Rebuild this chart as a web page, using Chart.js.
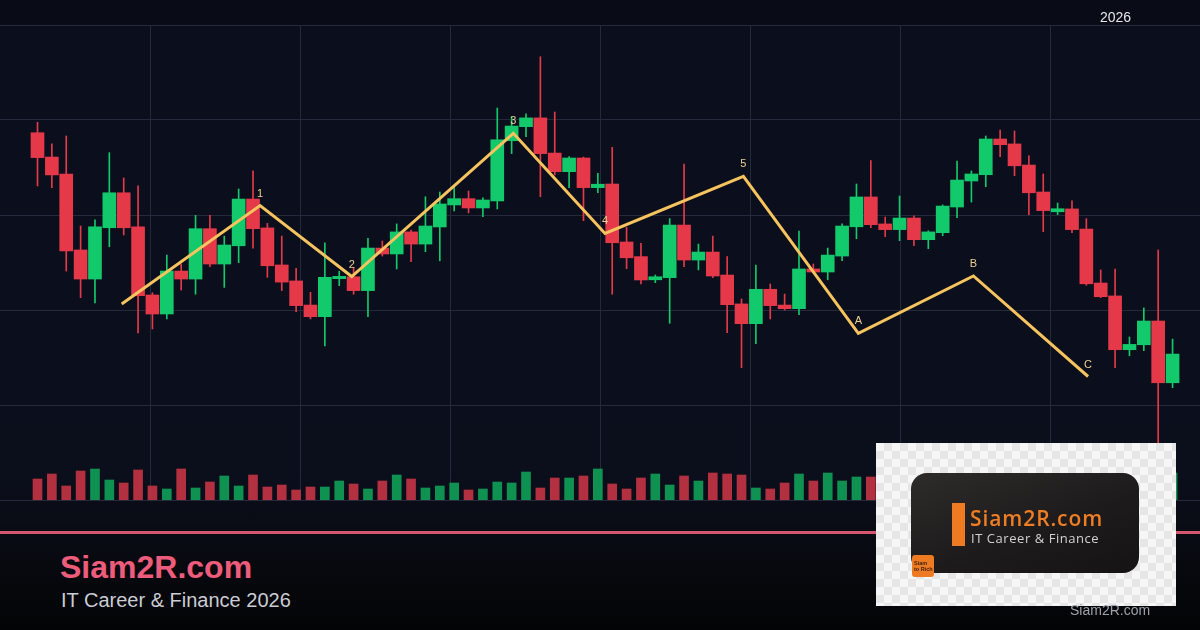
<!DOCTYPE html>
<html>
<head>
<meta charset="utf-8">
<script src="https://cdn.jsdelivr.net/npm/chart.js@4.4.1/dist/chart.umd.min.js"></script>
<style>
  html, body { margin: 0; padding: 0; }
  body {
    width: 1200px; height: 630px; overflow: hidden; position: relative;
    font-family: "Liberation Sans", Arial, sans-serif;
    background: linear-gradient(180deg, #090c16 0px, #090c16 24px, #0b0f1d 25px, #0b0f1c 470px, #090b13 540px, #030405 630px);
  }
  #wrap { position: absolute; left: 0; top: 0; width: 1200px; height: 510px; }
  .year { position: absolute; left: 1100px; top: 10px; font-size: 14px; line-height: 14px; color: #e4e6ea; }
  .rule { position: absolute; left: 0; top: 531px; width: 1200px; height: 3px; background: #d6566f; }
  .brand { position: absolute; left: 60px; top: 551px; font-size: 32px; line-height: 32px; font-weight: bold; color: #ee5c7c; }
  .tag { position: absolute; left: 61px; top: 590px; font-size: 20px; line-height: 20px; color: #c9ccd2; }
  .logo {
    position: absolute; left: 876px; top: 443px; width: 300px; height: 163px;
    background: repeating-conic-gradient(#e6e6e6 0 25%, #f6f6f6 0 50%) 0 0 / 16px 16px;
  }
  .card {
    position: absolute; left: 35px; top: 30px; width: 228px; height: 100px; border-radius: 16px;
    background: linear-gradient(160deg, #2e2b2b 0%, #1d1b1b 55%, #151313 100%);
  }
  .bar { position: absolute; left: 41px; top: 30px; width: 13px; height: 43px; background: #ee7a22; }
  .logo-name { position: absolute; left: 59px; top: 35px; font-family: "Open Sans", sans-serif; font-weight: 600; font-size: 21px; line-height: 21px; letter-spacing: 0.9px; color: #ef7d24; white-space: nowrap; }
  .logo-sub { position: absolute; left: 60px; top: 59px; font-family: "Open Sans", sans-serif; font-size: 13px; line-height: 13px; letter-spacing: 0.55px; color: #d2d2d2; white-space: nowrap; }
  .badge {
    position: absolute; left: 36px; top: 112px; width: 22px; height: 22px; border-radius: 3px; background: #ee7b22;
    font-size: 5.5px; line-height: 6px; font-weight: bold; color: #3a1f0c; padding: 5px 0 0 2px; box-sizing: border-box;
  }
  .foot { position: absolute; left: 1070px; top: 603px; font-size: 14px; line-height: 14px; color: #9ba1aa; }
</style>
</head>
<body>
<div id="wrap"><canvas id="c"></canvas></div>
<div class="year">2026</div>
<div class="rule"></div>
<div class="brand">Siam2R.com</div>
<div class="tag">IT Career &amp; Finance 2026</div>
<div class="logo">
  <div class="card">
    <div class="bar"></div>
    <div class="logo-name">Siam2R.com</div>
    <div class="logo-sub">IT Career &amp; Finance</div>
  </div>
  <div class="badge">Siam<br>to Rich</div>
</div>
<div class="foot">Siam2R.com</div>

<script>
// ราคา (OHLC) แต่ละแท่ง
const opens = [
  109.33,108.05,107.16,103.16,101.63,104.33,106.17,104.38,100.79,99.79,
  102.05,101.63,104.28,102.42,103.38,105.84,104.32,102.37,101.53,100.26,
  99.65,101.65,101.75,101.02,103.26,102.95,104.11,103.47,104.37,105.53,
  105.86,105.37,105.74,108.91,109.65,110.11,108.26,107.28,108.00,106.44,
  106.63,103.58,102.81,101.59,101.70,104.47,102.63,103.05,101.84,100.32,
  99.28,101.09,100.26,100.07,102.16,102.00,102.84,104.38,105.95,104.53,
  104.23,104.84,103.70,104.07,105.42,106.79,107.12,109.00,108.74,107.63,
  106.21,105.17,105.32,104.26,101.42,100.74,97.91,98.17,99.42,96.17
];
const closes = [
  108.02,107.11,103.11,101.63,104.38,106.17,104.33,100.75,99.79,102.05,
  101.63,104.28,102.42,103.42,105.84,104.28,102.33,101.47,100.23,99.65,
  101.72,101.77,101.02,103.26,102.95,104.11,103.47,104.42,105.58,105.86,
  105.37,105.79,108.96,109.68,110.11,108.23,107.28,108.00,106.44,106.62,
  103.54,102.75,101.58,101.75,104.47,102.63,103.05,101.79,100.28,99.28,
  101.09,100.23,100.07,102.16,102.00,102.89,104.42,105.95,104.49,104.23,
  104.84,103.70,104.11,105.47,106.84,107.16,109.00,108.70,107.59,106.17,
  105.23,105.33,104.23,101.38,100.70,97.91,98.19,99.42,96.17,97.68
];
const highs = [
  109.88,108.74,109.16,104.42,104.74,108.28,106.95,106.53,100.91,102.89,
  102.42,104.98,104.98,103.89,106.37,107.32,104.56,103.89,102.19,100.93,
  103.54,102.04,102.25,103.77,103.63,104.53,104.21,105.96,106.21,106.46,
  106.26,105.91,110.63,110.17,110.32,113.33,110.42,108.07,108.05,107.19,
  108.56,104.35,103.51,101.84,104.81,107.68,103.47,103.89,102.81,100.58,
  102.37,101.37,100.84,104.16,102.42,103.26,104.53,106.63,107.86,104.89,
  106.00,104.95,104.17,105.53,107.84,107.32,109.16,109.47,109.42,108.11,
  107.16,105.63,105.75,104.81,102.11,102.16,98.58,100.11,103.16,98.47
];
const lows = [
  106.53,106.44,102.05,100.65,100.37,103.33,103.95,98.79,99.00,99.53,
  101.05,100.83,102.28,101.19,102.49,103.25,101.72,101.02,99.91,99.53,
  98.11,101.28,100.83,99.65,102.84,102.16,102.54,103.07,102.59,105.21,
  105.11,104.91,105.32,108.23,109.12,105.96,107.11,106.44,104.70,106.17,
  100.83,102.17,101.37,101.44,99.30,102.28,102.11,101.70,98.81,96.96,
  98.23,99.53,100.00,99.75,101.96,101.59,102.59,103.75,104.33,103.86,
  103.65,103.38,103.23,103.91,104.86,105.68,106.49,108.07,107.07,105.02,
  104.12,105.02,104.07,101.30,100.65,96.96,97.59,97.86,92.50,95.91
];
const volumes = [
  21,26,14,29,31,20,17,30,14,11, 31,12,18,24,14,25,13,15,10,13,
  13,19,16,11,19,25,21,12,14,17, 10,11,18,17,28,12,22,22,24,31,
  16,11,22,26,15,24,19,27,26,25, 12,11,17,26,19,27,19,23,23,18,
  22,15,20,24,28,14,30,19,22,25, 17,12,21,29,16,31,13,20,30,27
];

// เส้นคลื่น Elliott (ตำแหน่งแท่ง, ราคา, ป้าย)
const waveX = [5.86, 15.49, 21.87, 33.12, 39.50, 49.13, 57.13, 65.14, 73.12];
const waveY = [100.32, 105.50, 101.76, 109.30, 104.03, 107.03, 98.77, 101.79, 96.50];
const waveLabels = ['', '1', '2', '3', '4', '5', 'A', 'B', 'C'];

const UP = '#12c96b';
const DOWN = '#e5394a';
const UP_VOL = 'rgba(16,160,88,0.9)';
const DOWN_VOL = 'rgba(196,52,68,0.9)';
const GRID = '#242a3b';

const idx = opens.map((_, i) => i);
const isUp = idx.map(i => closes[i] >= opens[i]);

const waveLabelPlugin = {
  id: 'waveLabels',
  afterDatasetsDraw(chart) {
    const meta = chart.getDatasetMeta(3);
    const ctx = chart.ctx;
    ctx.save();
    ctx.font = '11px "Liberation Sans", Arial, sans-serif';
    ctx.fillStyle = '#ead193';
    ctx.textAlign = 'center';
    ctx.textBaseline = 'middle';
    meta.data.forEach((pt, i) => {
      if (waveLabels[i]) ctx.fillText(waveLabels[i], pt.x, pt.y - 12);
    });
    ctx.restore();
  }
};

new Chart(document.getElementById('c'), {
  type: 'bar',
  data: {
    datasets: [
      {
        // volume
        data: idx.map(i => ({ x: i, y: volumes[i] })),
        yAxisID: 'yv',
        backgroundColor: idx.map(i => isUp[i] ? UP_VOL : DOWN_VOL),
        barThickness: 9,
        grouped: false,
        order: 4,
      },
      {
        // wicks
        data: idx.map(i => ({ x: i, y: [lows[i], highs[i]] })),
        backgroundColor: idx.map(i => isUp[i] ? UP : DOWN),
        barThickness: 1,
        grouped: false,
        order: 3,
      },
      {
        // bodies
        data: idx.map(i => ({ x: i, y: [opens[i], closes[i]] })),
        backgroundColor: idx.map(i => isUp[i] ? UP : DOWN),
        barThickness: 13,
        minBarLength: 2,
        grouped: false,
        order: 2,
      },
      {
        type: 'line',
        data: waveX.map((x, i) => ({ x, y: waveY[i] })),
        borderColor: '#f6c35f',
        borderWidth: 3,
        pointRadius: 0,
        tension: 0,
        borderJoinStyle: 'miter',
        order: 1,
      },
    ],
  },
  options: {
    responsive: true,
    maintainAspectRatio: false,
    animation: false,
    events: [],
    layout: { padding: { top: 25, bottom: 10, left: 0, right: 0 } },
    plugins: { legend: { display: false }, tooltip: { enabled: false } },
    scales: {
      x: { type: 'linear', min: -2.61, max: 80.91, offset: false, display: false },
      xg: {
        type: 'linear', min: 0, max: 8, offset: false, position: 'bottom',
        ticks: { display: false, stepSize: 1 },
        grid: {
          color: c => (c.tick.value === 0 || c.tick.value === 8) ? 'rgba(0,0,0,0)' : GRID,
          drawTicks: false, offset: false,
        },
        border: { display: false },
      },
      y: {
        type: 'linear', min: 90, max: 115,
        ticks: { display: false, stepSize: 5 },
        grid: { color: GRID, drawTicks: false },
        border: { display: false },
      },
      yv: { type: 'linear', min: 0, max: 475, display: false },
    },
  },
  plugins: [waveLabelPlugin],
});
</script>
</body>
</html>
